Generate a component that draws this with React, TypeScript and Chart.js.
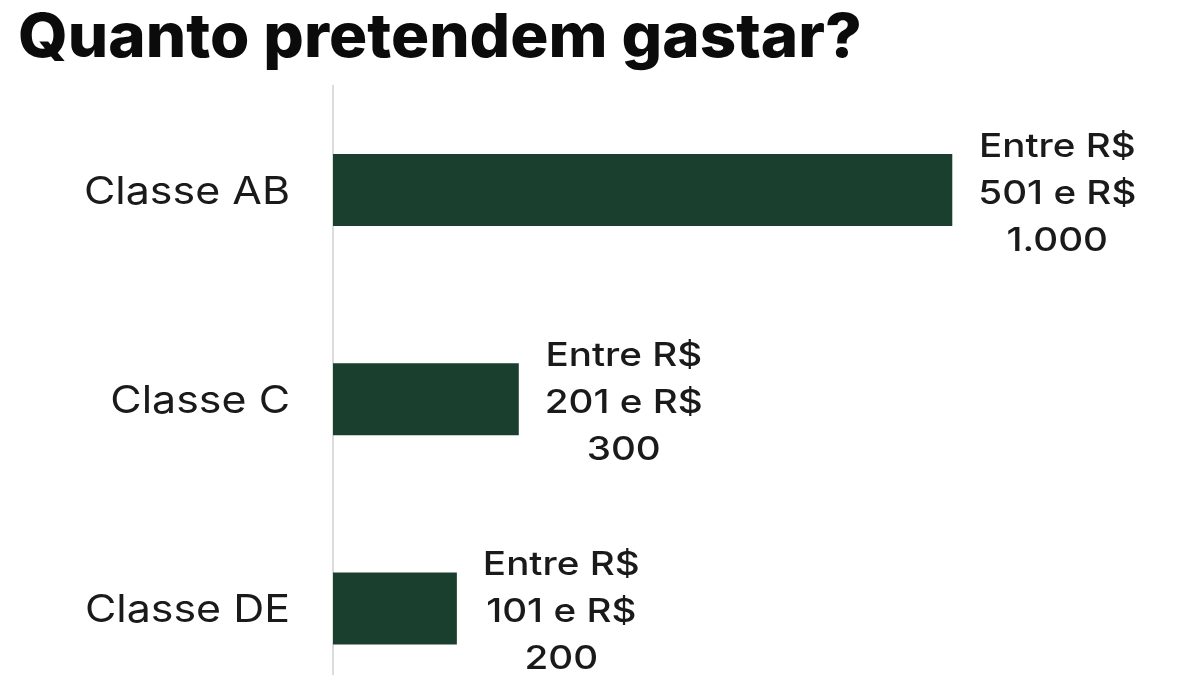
import React, { useEffect, useRef } from "react";
import { Chart, registerables } from "chart.js";

Chart.register(...registerables);

const title = "Quanto pretendem gastar?";
const categories = ["Classe AB", "Classe C", "Classe DE"];
const values = [1000, 300, 200];
const valueLabels = [
  ["Entre R$", "501 e R$", "1.000"],
  ["Entre R$", "201 e R$", "300"],
  ["Entre R$", "101 e R$", "200"],
];

const FONT = "Inter, 'Noto Sans', sans-serif";

function stretchedText(ctx: any, text: string, x: number, y: number, sx: number, align: string) {
  ctx.save();
  ctx.translate(x, y);
  ctx.scale(sx, 1);
  ctx.textAlign = align;
  ctx.fillText(text, 0, 0);
  ctx.restore();
}

const titlePlugin = {
  id: "titleText",
  afterDraw(chart: any) {
    const ctx = chart.ctx;
    ctx.save();
    ctx.fillStyle = "#0b0b0b";
    ctx.font = `800 61px ${FONT}`;
    ctx.textBaseline = "alphabetic";
    const w = ctx.measureText(title).width;
    stretchedText(ctx, title, 18, 57, 844 / w, "left");
    ctx.restore();
  },
};

const valueLabelPlugin = {
  id: "valueLabels",
  afterDatasetsDraw(chart: any) {
    const ctx = chart.ctx;
    const meta = chart.getDatasetMeta(0);
    ctx.save();
    ctx.fillStyle = "#1a1a1a";
    ctx.font = `500 33px ${FONT}`;
    ctx.textBaseline = "middle";
    const sx = 1.17;
    meta.data.forEach((bar: any, i: number) => {
      const lines = valueLabels[i];
      const w = Math.max(...lines.map((l: string) => ctx.measureText(l).width)) * sx;
      const cx = bar.x + 26 + w / 2;
      const lh = 47;
      const y0 = bar.y + 4 - lh * (lines.length - 1) / 2;
      lines.forEach((l: string, j: number) => stretchedText(ctx, l, cx, y0 + j * lh, sx, "center"));
    });
    ctx.restore();
  },
};

const categoryLabelPlugin = {
  id: "categoryLabels",
  afterDraw(chart: any) {
    const ctx = chart.ctx;
    const yScale = chart.scales.y;
    ctx.save();
    ctx.fillStyle = "#1a1a1a";
    ctx.font = `400 38px ${FONT}`;
    ctx.textBaseline = "middle";
    categories.forEach((c, i) => {
      const y = yScale.getPixelForValue(i);
      stretchedText(ctx, c, 290, y + 2, 1.13, "right");
    });
    ctx.restore();
  },
};

export default function App() {
  const ref = useRef<HTMLCanvasElement>(null);
  useEffect(() => {
    const chart = new Chart(ref.current!, {
      type: "bar",
      data: {
        labels: categories,
        datasets: [
          {
            data: values,
            backgroundColor: "#1b3f2e",
            categoryPercentage: 1,
            barPercentage: 72 / 209,
          },
        ],
      },
      options: {
        indexAxis: "y",
        responsive: false,
        maintainAspectRatio: false,
        animation: false,
        layout: { padding: { top: 85.5, left: 0, right: 0, bottom: 0 } },
        plugins: { legend: { display: false }, tooltip: { enabled: false }, title: { display: false } },
        scales: {
          x: { display: false, min: 0, max: 1400 },
          y: {
            grid: { display: false },
            border: { display: true, color: "#dcdcdc", width: 2 },
            ticks: { display: false },
            afterFit(scale: any) {
              scale.width = 333;
            },
          },
        },
      },
      plugins: [titlePlugin, valueLabelPlugin, categoryLabelPlugin],
    });
    return () => chart.destroy();
  }, []);
  return (
    <div style={{ position: "fixed", left: 0, top: 0, width: 1200, height: 675, overflow: "hidden", background: "#fff" }}>
      <canvas ref={ref} width={1200} height={713} style={{ display: "block", width: 1200, height: 713 }} />
    </div>
  );
}
